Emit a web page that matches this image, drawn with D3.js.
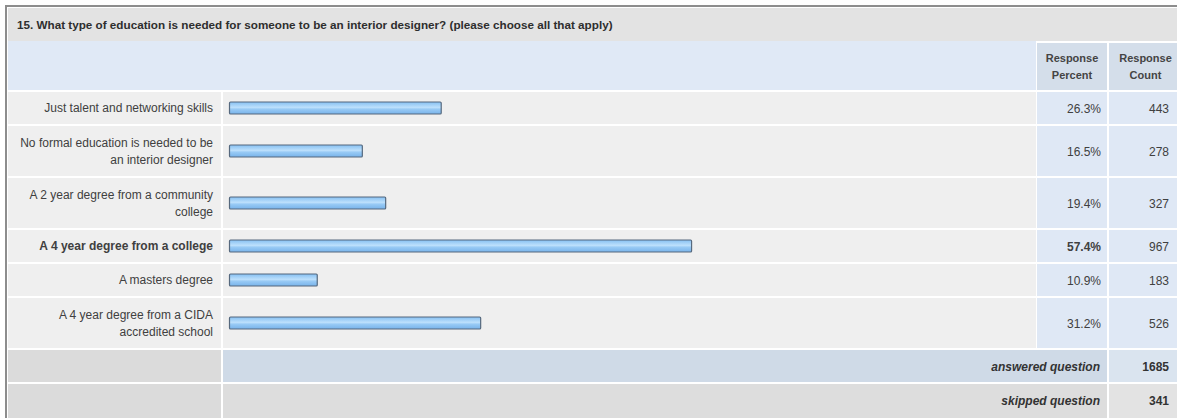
<!DOCTYPE html>
<html>
<head>
<meta charset="utf-8">
<script src="https://cdn.jsdelivr.net/npm/d3@7"></script>
<style>
  html, body { margin: 0; padding: 0; background: #ffffff; }
  svg { display: block; font-family: "Liberation Sans", Arial, sans-serif; }
</style>
</head>
<body>
<svg id="chart" width="1177" height="418"></svg>
<script>
// ---- data ----
const title = "15. What type of education is needed for someone to be an interior designer? (please choose all that apply)";
const categories = [
  ["Just talent and networking skills"],
  ["No formal education is needed to be", "an interior designer"],
  ["A 2 year degree from a community", "college"],
  ["A 4 year degree from a college"],
  ["A masters degree"],
  ["A 4 year degree from a CIDA", "accredited school"]
];
const percents = [26.3, 16.5, 19.4, 57.4, 10.9, 31.2];
const counts = [443, 278, 327, 967, 183, 526];
const headerPercent = ["Response", "Percent"];
const headerCount = ["Response", "Count"];
const answeredLabel = "answered question";
const answeredCount = 1685;
const skippedLabel = "skipped question";
const skippedCount = 341;

// ---- layout ----
(function () {
const svg = d3.select("#chart");
const W = 1177, H = 418;
const padL = 8, padT = 8;
const colLabelEnd = 221, colBarEnd = 1036, colPctEnd = 1108, padR = W;
const titleBottom = 41, headerBottom = 92;
const textColor = "#404040";
const fs = 12;

const rowH = categories.map(c => c.length === 1 ? 34 : 52);
const rowY = [];
let yAcc = headerBottom;
rowH.forEach(h => { rowY.push(yAcc); yAcc += h; });
const answeredY = yAcc, answeredH = 34;
const skippedY = answeredY + answeredH, skippedH = H - skippedY;

const x = d3.scaleLinear().domain([0, 100]).range([229, 1034]);
const maxPct = d3.max(percents);

const defs = svg.append("defs");
const grad = defs.append("linearGradient").attr("id", "barGrad")
  .attr("x1", 0).attr("y1", 0).attr("x2", 0).attr("y2", 1);
grad.append("stop").attr("offset", "0%").attr("stop-color", "#86c0f2");
grad.append("stop").attr("offset", "45%").attr("stop-color", "#bde0fc");
grad.append("stop").attr("offset", "60%").attr("stop-color", "#98caf5");
grad.append("stop").attr("offset", "100%").attr("stop-color", "#78b3ea");

svg.append("rect").attr("x", 0).attr("y", 0).attr("width", W).attr("height", H).attr("fill", "#ffffff");

svg.append("rect").attr("x", padL - 2).attr("y", padT - 2).attr("width", W).attr("height", H)
  .attr("fill", "#ffffff").attr("stroke", "#8d8d8d").attr("stroke-width", 2);

svg.append("rect").attr("x", padL).attr("y", padT).attr("width", padR - padL).attr("height", titleBottom - padT)
  .attr("fill", "#e3e3e3");
svg.append("text").attr("x", 17).attr("y", 25).attr("dy", "0.35em")
  .attr("font-size", 11.7).attr("font-weight", "bold").attr("fill", "#2e2e2e").text(title);

svg.append("rect").attr("x", padL).attr("y", titleBottom).attr("width", colBarEnd - padL).attr("height", headerBottom - titleBottom - 2)
  .attr("fill", "#e0e9f6");
svg.append("rect").attr("x", colBarEnd + 1).attr("y", titleBottom + 2).attr("width", colPctEnd - colBarEnd - 2).attr("height", headerBottom - titleBottom - 4)
  .attr("fill", "#d4deea");
svg.append("rect").attr("x", colPctEnd + 1).attr("y", titleBottom + 2).attr("width", padR - colPctEnd - 1).attr("height", headerBottom - titleBottom - 4)
  .attr("fill", "#d4deea");
[[headerPercent, (colBarEnd + colPctEnd) / 2], [headerCount, (colPctEnd + padR) / 2 + 3]].forEach(([lines, cx]) => {
  lines.forEach((l, i) => {
    svg.append("text").attr("x", cx).attr("y", 58 + i * 17).attr("dy", "0.35em")
      .attr("text-anchor", "middle").attr("font-size", 11).attr("font-weight", "bold")
      .attr("fill", "#444").text(l);
  });
});

const rows = svg.append("g").selectAll("g.row").data(categories.map((c, i) => ({
  lines: c, pct: percents[i], count: counts[i], y: rowY[i], h: rowH[i]
}))).join("g").attr("class", "row");

rows.append("rect").attr("x", padL).attr("y", d => d.y).attr("width", colLabelEnd - padL).attr("height", d => d.h - 2)
  .attr("fill", "#efefef");
rows.append("rect").attr("x", colLabelEnd + 2).attr("y", d => d.y).attr("width", colBarEnd - colLabelEnd - 2).attr("height", d => d.h - 2)
  .attr("fill", "#efefef");
rows.append("rect").attr("x", colBarEnd + 1).attr("y", d => d.y).attr("width", colPctEnd - colBarEnd - 2).attr("height", d => d.h - 2)
  .attr("fill", "#dfe8f5");
rows.append("rect").attr("x", colPctEnd + 1).attr("y", d => d.y).attr("width", padR - colPctEnd - 1).attr("height", d => d.h - 2)
  .attr("fill", "#dfe8f5");

rows.each(function(d) {
  const g = d3.select(this);
  const cy = d.y + (d.h - 2) / 2;
  const bold = d.pct === maxPct ? "bold" : "normal";
  const n = d.lines.length;
  d.lines.forEach((l, i) => {
    g.append("text").attr("x", 213).attr("y", cy + (i - (n - 1) / 2) * 17).attr("dy", "0.35em")
      .attr("text-anchor", "end").attr("font-size", fs).attr("font-weight", bold)
      .attr("fill", textColor).text(l);
  });
  g.append("rect").attr("x", x(0) + 0.5).attr("y", cy - 6).attr("width", x(d.pct) - x(0)).attr("height", 12)
    .attr("rx", 1).attr("fill", "url(#barGrad)").attr("stroke", "#56697e").attr("stroke-width", 1.2);
  g.append("text").attr("x", 1101).attr("y", cy + 1).attr("dy", "0.35em")
    .attr("text-anchor", "end").attr("font-size", fs).attr("font-weight", bold)
    .attr("fill", textColor).text(d3.format(".1f")(d.pct) + "%");
  g.append("text").attr("x", 1169).attr("y", cy + 1).attr("dy", "0.35em")
    .attr("text-anchor", "end").attr("font-size", fs).attr("font-weight", "normal")
    .attr("fill", textColor).text(d.count);
});

svg.append("rect").attr("x", padL).attr("y", answeredY).attr("width", colLabelEnd - padL).attr("height", answeredH - 2).attr("fill", "#dbdbdb");
svg.append("rect").attr("x", colLabelEnd + 2).attr("y", answeredY).attr("width", colPctEnd - colLabelEnd - 3).attr("height", answeredH - 2).attr("fill", "#cfdae7");
svg.append("rect").attr("x", colPctEnd + 1).attr("y", answeredY).attr("width", padR - colPctEnd - 1).attr("height", answeredH - 2).attr("fill", "#dae4ef");
svg.append("text").attr("x", 1100).attr("y", answeredY + (answeredH - 2) / 2 + 1).attr("dy", "0.35em")
  .attr("text-anchor", "end").attr("font-size", fs).attr("font-weight", "bold").attr("font-style", "italic")
  .attr("fill", "#333").text(answeredLabel);
svg.append("text").attr("x", 1169).attr("y", answeredY + (answeredH - 2) / 2 + 1).attr("dy", "0.35em")
  .attr("text-anchor", "end").attr("font-size", fs).attr("font-weight", "bold")
  .attr("fill", "#333").text(answeredCount);

svg.append("rect").attr("x", padL).attr("y", skippedY).attr("width", colLabelEnd - padL).attr("height", skippedH).attr("fill", "#dbdbdb");
svg.append("rect").attr("x", colLabelEnd + 2).attr("y", skippedY).attr("width", colPctEnd - colLabelEnd - 3).attr("height", skippedH).attr("fill", "#dddddd");
svg.append("rect").attr("x", colPctEnd + 1).attr("y", skippedY).attr("width", padR - colPctEnd - 1).attr("height", skippedH).attr("fill", "#e3e3e3");
svg.append("text").attr("x", 1100).attr("y", skippedY + 17).attr("dy", "0.35em")
  .attr("text-anchor", "end").attr("font-size", fs).attr("font-weight", "bold").attr("font-style", "italic")
  .attr("fill", "#333").text(skippedLabel);
svg.append("text").attr("x", 1169).attr("y", skippedY + 17).attr("dy", "0.35em")
  .attr("text-anchor", "end").attr("font-size", fs).attr("font-weight", "bold")
  .attr("fill", "#333").text(skippedCount);
})();
</script>
</body>
</html>
